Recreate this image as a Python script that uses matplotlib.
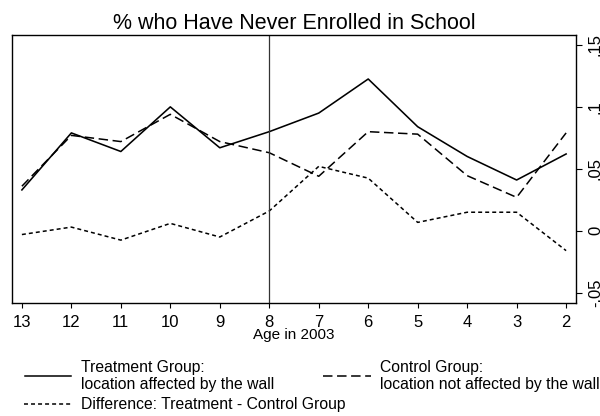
import matplotlib.pyplot as plt
from matplotlib.lines import Line2D

plt.rcParams['font.family'] = ['Liberation Sans', 'DejaVu Sans']

ages = [13, 12, 11, 10, 9, 8, 7, 6, 5, 4, 3, 2]
treatment = [0.033, 0.079, 0.064, 0.100, 0.067, 0.080, 0.095, 0.1225, 0.084, 0.060, 0.041, 0.062]
control = [0.036, 0.077, 0.072, 0.094, 0.072, 0.063, 0.044, 0.080, 0.078, 0.0445, 0.027, 0.079]
difference = [-0.003, 0.003, -0.0075, 0.006, -0.005, 0.016, 0.052, 0.0425, 0.0068, 0.015, 0.015, -0.016]

ytick_vals = [-0.05, 0, 0.05, 0.1, 0.15]
ytick_labels = ['-.05', '0', '.05', '.1', '.15']

W, H = 600, 416
DASHED = (6.2, 3.0)
DOTTED = (2.6, 2.0)

fig = plt.figure(figsize=(W / 100, H / 100), dpi=100)
ax = fig.add_axes([12 / W, 1 - 302.7 / H, 564 / W, 267.7 / H])

ax.plot(ages, treatment, color='black', lw=1.15)
ax.plot(ages, control, color='black', lw=1.1, dashes=DASHED)
ax.plot(ages, difference, color='black', lw=1.1, dashes=DOTTED)
ax.axvline(8, color='#333333', lw=0.9)

ax.set_xlim(13.2, 1.8)
ax.set_ylim(-0.058, 0.158)
ax.set_xticks(ages)
ax.set_xticklabels([str(a) for a in ages], fontsize=12)
ax.yaxis.tick_right()
ax.set_yticks(ytick_vals)
ax.set_yticklabels(ytick_labels, fontsize=12, rotation=90, va='center')
ax.tick_params(width=0.8, color='black')
ax.tick_params(axis='x', length=3.8, pad=5)
ax.tick_params(axis='y', length=4.4, pad=4.2)
for s in ax.spines.values():
    s.set_linewidth(1.0)

ax.set_title('% who Have Never Enrolled in School', fontsize=15.5, pad=4)
fig.text(294 / W, 1 - 335 / H, 'Age in 2003', fontsize=11, ha='center', va='center')


# legend drawn by hand in pixel positions
def legend_entry(x0, x1, y, tx, text, **style):
    fig.add_artist(Line2D([x0 / W, x1 / W], [1 - y / H, 1 - y / H],
                          color='black', lw=1.1, **style))
    fig.text(tx / W, 1 - y / H, text, fontsize=11.3,
             va='center', ha='left', linespacing=1.15)


legend_entry(25, 71, 376, 81, 'Treatment Group:\nlocation affected by the wall')
legend_entry(323, 371, 376, 380, 'Control Group:\nlocation not affected by the wall',
             dashes=DASHED)
legend_entry(24, 71, 404, 81, 'Difference: Treatment - Control Group',
             dashes=DOTTED)

fig.savefig('out.png', dpi=100)
